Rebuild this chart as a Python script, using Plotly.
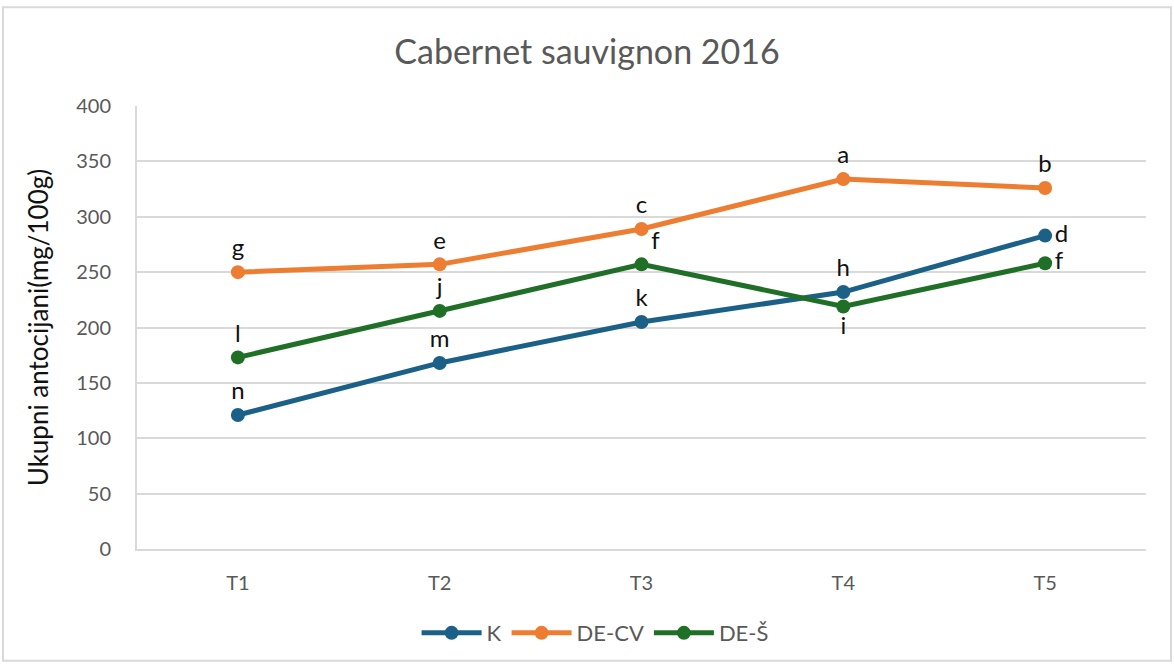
import plotly.graph_objects as go

# Data
categories = ['T1', 'T2', 'T3', 'T4', 'T5']
k_values = [121, 168, 205, 232, 283]
decv_values = [250, 257, 289, 334, 326]
des_values = [173, 215, 257, 219, 258]

k_letters = ['n', 'm', 'k', 'h', 'd']
decv_letters = ['g', 'e', 'c', 'a', 'b']
des_letters = ['l', 'j', 'f', 'i', 'f']

k_pos = ['top center', 'top center', 'top center', 'top center',
         'middle right']
decv_pos = ['top center'] * 5
des_pos = ['top center', 'top center', 'top right', 'bottom center',
           'middle right']

series = [
    ('K', k_values, k_letters, k_pos, '#1b6086'),
    ('DE-CV', decv_values, decv_letters, decv_pos, '#ed7d31'),
    ('DE-Š', des_values, des_letters, des_pos, '#1f6f27'),
]

fig = go.Figure()
for name, values, letters, pos, color in series:
    fig.add_trace(go.Scatter(
        x=categories,
        y=values,
        name=name,
        mode='lines+markers+text',
        text=letters,
        textposition=pos,
        textfont=dict(size=24, color='#111111'),
        line=dict(color=color, width=5),
        marker=dict(color=color, size=14),
    ))

fig.update_layout(
    width=1174,
    height=665,
    margin=dict(l=137, r=28, t=106, b=115),
    paper_bgcolor='white',
    plot_bgcolor='white',
    font=dict(family='Lato, sans-serif', color='#595959'),
    title=dict(text='Cabernet sauvignon 2016', x=0.5, xanchor='center',
               y=0.922, yanchor='middle',
               font=dict(size=34, color='#595959')),
    xaxis=dict(
        type='category',
        range=[-0.5, 4.5],
        showgrid=False,
        showline=True,
        linecolor='#d9d9d9',
        linewidth=2,
        ticks='',
        tickfont=dict(size=20, color='#595959'),
        ticklabelstandoff=15,
    ),
    yaxis=dict(
        range=[0, 400],
        dtick=50,
        showgrid=True,
        gridcolor='#d9d9d9',
        gridwidth=2,
        showline=True,
        linecolor='#d9d9d9',
        linewidth=2,
        zeroline=False,
        ticks='',
        tickfont=dict(size=20, color='#595959'),
        ticklabelstandoff=20,
        title=dict(text='Ukupni antocijani(mg/100g)',
                   font=dict(size=26, color='#111111'), standoff=20),
    ),
    legend=dict(
        orientation='h',
        x=0.454, xanchor='center',
        y=-0.187, yanchor='middle',
        font=dict(size=22, color='#595959'),
        itemwidth=60,
    ),
    showlegend=True,
)

# outer chart border
fig.add_shape(type='rect', xref='paper', yref='paper',
              x0=-0.1328, x1=1.0248, y0=-0.252, y1=1.223,
              line=dict(color='#d9d9d9', width=2), layer='below')

fig.write_html('out.html', config={'displayModeBar': False},
               post_script="document.body.style.margin='0';")
